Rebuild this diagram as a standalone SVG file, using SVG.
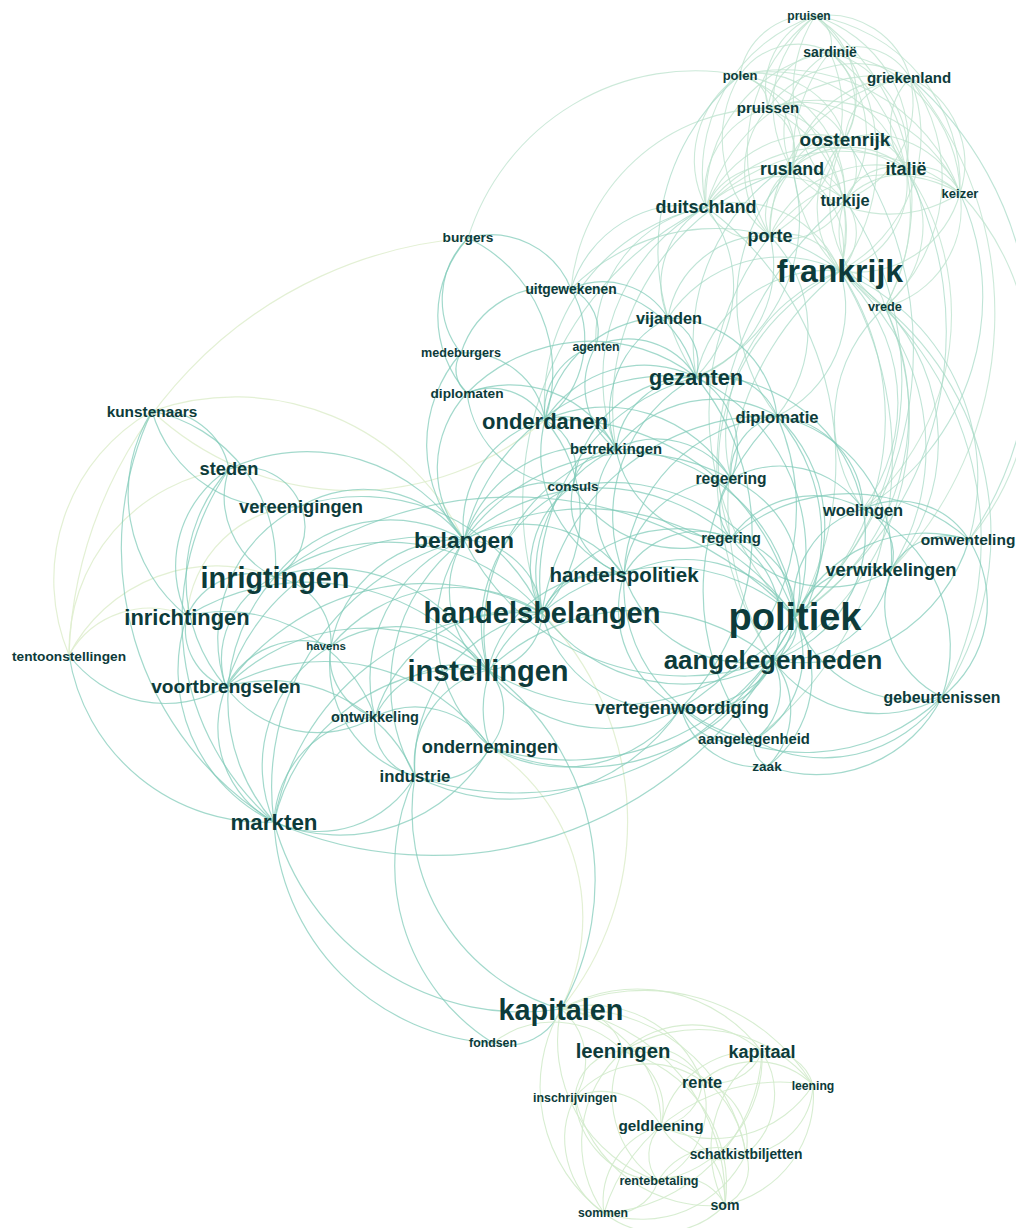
<svg xmlns="http://www.w3.org/2000/svg" width="1016" height="1228" viewBox="0 0 1016 1228">
<style>
.bg{fill:#ffffff}
#connectors path{fill:none;stroke-linecap:round}
.e path{stroke:#7fcbb9;stroke-width:1.2;stroke-opacity:0.72}
.t path{stroke:#bfe3cf;stroke-width:1.1;stroke-opacity:0.8}
.m path{stroke:#a6d9c6;stroke-width:1.1;stroke-opacity:0.72}
.b path{stroke:#d3ebcc;stroke-width:1.1;stroke-opacity:0.9}
.y path{stroke:#e0eecf;stroke-width:1.2;stroke-opacity:0.9}
text{font-family:"Liberation Sans",Arial,Helvetica,sans-serif;font-weight:bold;fill:#0d3b3a;text-anchor:middle}
</style>
<rect class="bg" width="1016" height="1228"/>
<g id="connectors">
<g class="t">
<path d="M815 16A30 30 0 0 1 830 52"/>
<path d="M815 16A85 85 0 0 1 910 78"/>
<path d="M740 75A71 71 0 0 1 815 16"/>
<path d="M815 16A95 95 0 0 1 845 139"/>
<path d="M792 169A116 116 0 0 1 815 16"/>
<path d="M815 16A134 134 0 0 1 906 169"/>
<path d="M815 16A192 192 0 0 1 840 271"/>
<path d="M845 200A140 140 0 0 1 815 16"/>
<path d="M830 52A66 66 0 0 1 845 139"/>
<path d="M830 52A105 105 0 0 1 906 169"/>
<path d="M840 271A164 164 0 0 1 830 52"/>
<path d="M792 169A92 92 0 0 1 830 52"/>
<path d="M830 52A63 63 0 0 1 910 78"/>
<path d="M830 52A144 144 0 0 1 960 193"/>
<path d="M740 75A80 80 0 0 1 792 169"/>
<path d="M740 75A92 92 0 0 1 845 139"/>
<path d="M740 75A32 32 0 0 1 768 108"/>
<path d="M740 75A165 165 0 0 1 840 271"/>
<path d="M706 207A102 102 0 0 1 740 75"/>
<path d="M740 75A122 122 0 0 1 845 200"/>
<path d="M910 78A104 104 0 0 1 845 200"/>
<path d="M792 169A112 112 0 0 1 910 78"/>
<path d="M910 78A154 154 0 0 1 840 271"/>
<path d="M910 78A94 94 0 0 1 960 193"/>
<path d="M770 236A158 158 0 0 1 910 78"/>
<path d="M845 139A67 67 0 0 1 910 78"/>
<path d="M768 108A62 62 0 0 1 845 139"/>
<path d="M768 108A50 50 0 0 1 792 169"/>
<path d="M768 108A134 134 0 0 1 840 271"/>
<path d="M706 207A88 88 0 0 1 768 108"/>
<path d="M768 108A113 113 0 0 1 906 169"/>
<path d="M845 139A51 51 0 0 1 906 169"/>
<path d="M840 271A99 99 0 0 1 845 139"/>
<path d="M792 169A46 46 0 0 1 845 139"/>
<path d="M845 139A46 46 0 0 1 845 200"/>
<path d="M845 139A95 95 0 0 1 960 193"/>
<path d="M706 207A116 116 0 0 1 845 139"/>
<path d="M792 169A46 46 0 0 1 845 200"/>
<path d="M770 236A53 53 0 0 1 792 169"/>
<path d="M792 169A85 85 0 0 1 840 271"/>
<path d="M792 169A86 86 0 0 1 906 169"/>
<path d="M960 193A128 128 0 0 1 792 169"/>
<path d="M906 169A91 91 0 0 1 840 271"/>
<path d="M845 200A51 51 0 0 1 906 169"/>
<path d="M906 169A44 44 0 0 1 960 193"/>
<path d="M845 200A62 62 0 0 1 770 236"/>
<path d="M845 200A53 53 0 0 1 840 271"/>
<path d="M706 207A111 111 0 0 1 840 271"/>
<path d="M770 236A53 53 0 0 1 706 207"/>
<path d="M770 236A59 59 0 0 1 840 271"/>
<path d="M840 271A44 44 0 0 1 885 307"/>
<path d="M960 193A107 107 0 0 1 840 271"/>
<path d="M960 193A102 102 0 0 1 885 307"/>
<path d="M815 16A172 172 0 0 1 960 193"/>
<path d="M768 108A78 78 0 0 1 815 16"/>
<path d="M770 236A169 169 0 0 1 815 16"/>
<path d="M740 75A70 70 0 0 1 830 52"/>
<path d="M830 52A63 63 0 0 0 768 108"/>
<path d="M845 200A111 111 0 0 0 830 52"/>
<path d="M830 52A149 149 0 0 0 706 207"/>
<path d="M830 52A145 145 0 0 1 770 236"/>
<path d="M906 169A68 68 0 0 1 910 78"/>
<path d="M910 78A109 109 0 0 0 768 108"/>
<path d="M706 207A181 181 0 0 1 910 78"/>
<path d="M910 78A173 173 0 0 1 885 307"/>
<path d="M740 75A143 143 0 0 1 906 169"/>
<path d="M770 236A123 123 0 0 1 740 75"/>
<path d="M740 75A187 187 0 0 1 960 193"/>
<path d="M845 200A90 90 0 0 0 768 108"/>
<path d="M768 108A96 96 0 0 0 770 236"/>
<path d="M768 108A157 157 0 0 1 960 193"/>
<path d="M845 139A92 92 0 0 0 770 236"/>
<path d="M885 307A130 130 0 0 1 845 139"/>
<path d="M792 169A71 71 0 0 0 706 207"/>
<path d="M770 236A114 114 0 0 1 906 169"/>
<path d="M906 169A153 153 0 0 0 706 207"/>
<path d="M906 169A105 105 0 0 1 885 307"/>
<path d="M845 200A86 86 0 0 1 960 193"/>
<path d="M706 207A104 104 0 0 1 845 200"/>
<path d="M845 200A86 86 0 0 0 885 307"/>
<path d="M960 193A191 191 0 0 0 706 207"/>
<path d="M770 236A146 146 0 0 1 960 193"/>
<path d="M830 52A196 196 0 0 1 885 307"/>
<path d="M815 16A224 224 0 0 1 885 307"/>
<path d="M815 16A165 165 0 0 0 706 207"/>
<path d="M740 75A238 238 0 0 0 468 238"/>
<path d="M768 108A200 200 0 0 0 571 289"/>
<path d="M910 78A369 369 0 0 1 891 570"/>
<path d="M906 169A257 257 0 0 1 863 509"/>
<path d="M960 193A260 260 0 0 1 969 540"/>
</g>
<g class="m">
<path d="M840 271A263 263 0 0 1 795 617"/>
<path d="M840 271A120 120 0 0 1 777 416"/>
<path d="M696 377A134 134 0 0 1 840 271"/>
<path d="M840 271A179 179 0 0 1 863 509"/>
<path d="M840 271A227 227 0 0 1 891 570"/>
<path d="M706 207A128 128 0 0 1 696 377"/>
<path d="M706 207A315 315 0 0 1 795 617"/>
<path d="M545 420A200 200 0 0 1 706 207"/>
<path d="M770 236A119 119 0 0 1 696 377"/>
<path d="M792 169A172 172 0 0 1 696 377"/>
<path d="M845 139A360 360 0 0 1 795 617"/>
<path d="M885 307A242 242 0 0 1 795 617"/>
<path d="M885 307A278 278 0 0 1 773 660"/>
<path d="M773 660A296 296 0 0 1 840 271"/>
<path d="M668 318A134 134 0 0 1 840 271"/>
<path d="M706 207A194 194 0 0 0 616 449"/>
<path d="M840 271A224 224 0 0 1 969 540"/>
<path d="M840 271A329 329 0 0 1 942 697"/>
<path d="M706 207A329 329 0 0 0 542 613"/>
<path d="M770 236A98 98 0 0 0 668 318"/>
<path d="M845 200A315 315 0 0 1 795 617"/>
<path d="M840 271A203 203 0 0 0 571 289"/>
<path d="M706 207A119 119 0 0 0 571 289"/>
<path d="M840 271A176 176 0 0 0 731 479"/>
<path d="M731 538A216 216 0 0 1 840 271"/>
<path d="M770 236A135 135 0 0 1 777 416"/>
<path d="M845 139A211 211 0 0 0 696 377"/>
<path d="M777 416A185 185 0 0 1 792 169"/>
<path d="M906 169A346 346 0 0 1 795 617"/>
<path d="M910 78A349 349 0 0 1 969 540"/>
<path d="M795 617A286 286 0 0 1 770 236"/>
<path d="M706 207A88 88 0 0 0 668 318"/>
<path d="M840 271A358 358 0 0 1 754 740"/>
<path d="M773 660A349 349 0 0 1 845 200"/>
<path d="M960 193A248 248 0 0 1 863 509"/>
<path d="M885 307A197 197 0 0 1 891 570"/>
<path d="M863 509A152 152 0 0 1 885 307"/>
<path d="M885 307A296 296 0 0 1 942 697"/>
<path d="M596 346A133 133 0 0 1 706 207"/>
<path d="M740 75A229 229 0 0 0 696 377"/>
<path d="M792 169A248 248 0 0 0 616 449"/>
</g>
<g class="y">
<path d="M69 655A433 433 0 0 1 468 238"/>
<path d="M152 411A295 295 0 0 0 545 420"/>
<path d="M69 655A194 194 0 0 1 152 411"/>
<path d="M229 469A184 184 0 0 0 69 655"/>
<path d="M187 616A119 119 0 0 1 301 506"/>
<path d="M275 577A165 165 0 0 0 69 655"/>
<path d="M187 616A93 93 0 0 0 69 655"/>
<path d="M561 1009A297 297 0 0 0 542 613"/>
<path d="M490 747A203 203 0 0 1 561 1009"/>
<path d="M464 540A254 254 0 0 0 152 411"/>
</g>
<g class="e">
<path d="M795 617A190 190 0 0 0 542 613"/>
<path d="M795 617A36 36 0 0 1 773 660"/>
<path d="M624 575A132 132 0 0 1 795 617"/>
<path d="M731 538A77 77 0 0 1 795 617"/>
<path d="M795 617A114 114 0 0 0 731 479"/>
<path d="M863 509A96 96 0 0 0 795 617"/>
<path d="M795 617A143 143 0 0 1 969 540"/>
<path d="M891 570A80 80 0 0 0 795 617"/>
<path d="M795 617A125 125 0 0 0 942 697"/>
<path d="M777 416A152 152 0 0 1 795 617"/>
<path d="M696 377A195 195 0 0 1 795 617"/>
<path d="M795 617A110 110 0 0 1 681 708"/>
<path d="M754 740A98 98 0 0 0 795 617"/>
<path d="M795 617A113 113 0 0 1 768 766"/>
<path d="M464 540A255 255 0 0 1 795 617"/>
<path d="M795 617A234 234 0 0 1 488 670"/>
<path d="M616 449A184 184 0 0 1 795 617"/>
<path d="M545 420A239 239 0 0 1 795 617"/>
<path d="M795 617A194 194 0 0 0 573 486"/>
<path d="M795 617A309 309 0 0 1 415 776"/>
<path d="M490 747A249 249 0 0 0 795 617"/>
<path d="M275 577A392 392 0 0 1 795 617"/>
<path d="M542 613A59 59 0 0 1 488 670"/>
<path d="M542 613A68 68 0 0 1 624 575"/>
<path d="M464 540A80 80 0 0 1 542 613"/>
<path d="M542 613A177 177 0 0 0 773 660"/>
<path d="M681 708A126 126 0 0 1 542 613"/>
<path d="M542 613A108 108 0 0 0 490 747"/>
<path d="M415 776A155 155 0 0 1 542 613"/>
<path d="M542 613A255 255 0 0 0 274 822"/>
<path d="M226 687A244 244 0 0 1 542 613"/>
<path d="M545 420A145 145 0 0 1 542 613"/>
<path d="M542 613A135 135 0 0 1 616 449"/>
<path d="M573 486A98 98 0 0 0 542 613"/>
<path d="M542 613A152 152 0 0 1 731 538"/>
<path d="M696 377A212 212 0 0 0 542 613"/>
<path d="M542 613A202 202 0 0 0 275 577"/>
<path d="M375 717A148 148 0 0 1 542 613"/>
<path d="M542 613A161 161 0 0 0 331 646"/>
<path d="M777 416A230 230 0 0 0 542 613"/>
<path d="M488 670A197 197 0 0 0 226 687"/>
<path d="M274 822A197 197 0 0 1 488 670"/>
<path d="M488 670A97 97 0 0 0 415 776"/>
<path d="M490 747A58 58 0 0 0 488 670"/>
<path d="M488 670A92 92 0 0 0 375 717"/>
<path d="M331 646A119 119 0 0 1 488 670"/>
<path d="M488 670A174 174 0 0 0 275 577"/>
<path d="M187 616A230 230 0 0 1 488 670"/>
<path d="M488 670A99 99 0 0 1 464 540"/>
<path d="M773 660A214 214 0 0 0 488 670"/>
<path d="M488 670A148 148 0 0 0 681 708"/>
<path d="M773 660A78 78 0 0 1 681 708"/>
<path d="M754 740A62 62 0 0 0 773 660"/>
<path d="M773 660A80 80 0 0 1 768 766"/>
<path d="M942 697A130 130 0 0 1 773 660"/>
<path d="M773 660A111 111 0 0 0 891 570"/>
<path d="M863 509A132 132 0 0 1 773 660"/>
<path d="M773 660A97 97 0 0 0 731 538"/>
<path d="M624 575A129 129 0 0 0 773 660"/>
<path d="M773 660A183 183 0 0 0 777 416"/>
<path d="M969 540A173 173 0 0 1 773 660"/>
<path d="M773 660A248 248 0 0 1 464 540"/>
<path d="M624 575A123 123 0 0 0 464 540"/>
<path d="M731 538A85 85 0 0 0 624 575"/>
<path d="M624 575A108 108 0 0 1 731 479"/>
<path d="M616 449A95 95 0 0 0 624 575"/>
<path d="M624 575A109 109 0 0 0 681 708"/>
<path d="M696 377A158 158 0 0 0 624 575"/>
<path d="M624 575A77 77 0 0 1 573 486"/>
<path d="M464 540A109 109 0 0 1 545 420"/>
<path d="M616 449A133 133 0 0 0 464 540"/>
<path d="M464 540A92 92 0 0 1 573 486"/>
<path d="M275 577A145 145 0 0 1 464 540"/>
<path d="M464 540A210 210 0 0 0 226 687"/>
<path d="M274 822A255 255 0 0 1 464 540"/>
<path d="M464 540A181 181 0 0 0 415 776"/>
<path d="M467 393A110 110 0 0 0 464 540"/>
<path d="M464 540A213 213 0 0 1 696 377"/>
<path d="M301 506A125 125 0 0 1 464 540"/>
<path d="M696 377A68 68 0 0 1 777 416"/>
<path d="M616 449A81 81 0 0 1 696 377"/>
<path d="M696 377A118 118 0 0 0 545 420"/>
<path d="M668 318A49 49 0 0 1 696 377"/>
<path d="M596 346A79 79 0 0 1 696 377"/>
<path d="M696 377A123 123 0 0 0 573 486"/>
<path d="M731 479A81 81 0 0 0 696 377"/>
<path d="M467 393A173 173 0 0 1 696 377"/>
<path d="M696 377A248 248 0 0 1 681 708"/>
<path d="M545 420A58 58 0 0 1 616 449"/>
<path d="M461 353A80 80 0 0 1 545 420"/>
<path d="M545 420A149 149 0 0 0 468 238"/>
<path d="M571 289A101 101 0 0 1 545 420"/>
<path d="M545 420A54 54 0 0 1 573 486"/>
<path d="M545 420A62 62 0 0 0 467 393"/>
<path d="M668 318A120 120 0 0 0 545 420"/>
<path d="M545 420A68 68 0 0 1 596 346"/>
<path d="M777 416A123 123 0 0 0 616 449"/>
<path d="M731 479A59 59 0 0 1 777 416"/>
<path d="M777 416A230 230 0 0 1 681 708"/>
<path d="M754 740A244 244 0 0 1 777 416"/>
<path d="M226 687A107 107 0 0 0 274 822"/>
<path d="M415 776A157 157 0 0 0 226 687"/>
<path d="M226 687A114 114 0 0 0 375 717"/>
<path d="M331 646A85 85 0 0 0 226 687"/>
<path d="M226 687A90 90 0 0 1 275 577"/>
<path d="M187 616A61 61 0 0 0 226 687"/>
<path d="M226 687A164 164 0 0 1 229 469"/>
<path d="M69 655A120 120 0 0 0 226 687"/>
<path d="M490 747A203 203 0 0 0 226 687"/>
<path d="M274 822A111 111 0 0 0 415 776"/>
<path d="M375 717A110 110 0 0 0 274 822"/>
<path d="M274 822A139 139 0 0 1 331 646"/>
<path d="M275 577A184 184 0 0 0 274 822"/>
<path d="M229 469A267 267 0 0 0 274 822"/>
<path d="M274 822A172 172 0 0 0 490 747"/>
<path d="M274 822A257 257 0 0 0 561 1009"/>
<path d="M415 776A60 60 0 0 0 490 747"/>
<path d="M375 717A53 53 0 0 0 415 776"/>
<path d="M561 1009A206 206 0 0 1 415 776"/>
<path d="M275 577A72 72 0 0 0 187 616"/>
<path d="M229 469A88 88 0 0 0 275 577"/>
<path d="M275 577A57 57 0 0 0 301 506"/>
<path d="M152 411A155 155 0 0 1 275 577"/>
<path d="M187 616A156 156 0 0 1 152 411"/>
<path d="M229 469A115 115 0 0 0 187 616"/>
<path d="M274 822A198 198 0 0 1 69 655"/>
<path d="M152 411A72 72 0 0 1 229 469"/>
<path d="M152 411A133 133 0 0 0 301 506"/>
<path d="M274 822A322 322 0 0 1 152 411"/>
<path d="M468 238A86 86 0 0 1 571 289"/>
<path d="M571 289A76 76 0 0 1 668 318"/>
<path d="M596 346A47 47 0 0 0 571 289"/>
<path d="M461 353A95 95 0 0 1 571 289"/>
<path d="M468 238A86 86 0 0 0 461 353"/>
<path d="M467 393A116 116 0 0 1 468 238"/>
<path d="M863 509A83 83 0 0 1 969 540"/>
<path d="M891 570A50 50 0 0 0 863 509"/>
<path d="M969 540A63 63 0 0 0 891 570"/>
<path d="M891 570A103 103 0 0 0 942 697"/>
<path d="M969 540A119 119 0 0 1 942 697"/>
<path d="M731 538A44 44 0 0 1 731 479"/>
<path d="M754 740A23 23 0 0 0 768 766"/>
<path d="M681 708A60 60 0 0 0 754 740"/>
<path d="M768 766A79 79 0 0 1 681 708"/>
<path d="M488 670A260 260 0 0 1 561 1009"/>
<path d="M561 1009A57 57 0 0 1 493 1043"/>
<path d="M493 1043A233 233 0 0 1 274 822"/>
<path d="M415 776A209 209 0 0 0 493 1043"/>
<path d="M464 540A128 128 0 0 0 331 646"/>
<path d="M375 717A149 149 0 0 1 464 540"/>
<path d="M464 540A157 157 0 0 0 490 747"/>
<path d="M731 538A200 200 0 0 0 464 540"/>
<path d="M464 540A206 206 0 0 1 731 479"/>
<path d="M488 670A125 125 0 0 1 624 575"/>
<path d="M616 449A191 191 0 0 0 488 670"/>
<path d="M488 670A152 152 0 0 1 573 486"/>
<path d="M754 740A158 158 0 0 1 624 575"/>
<path d="M624 575A166 166 0 0 1 777 416"/>
<path d="M545 420A131 131 0 0 0 624 575"/>
<path d="M942 697A196 196 0 0 1 681 708"/>
<path d="M681 708A146 146 0 0 1 490 747"/>
<path d="M415 776A206 206 0 0 0 681 708"/>
<path d="M754 740A145 145 0 0 0 942 697"/>
<path d="M942 697A140 140 0 0 1 768 766"/>
<path d="M731 538A101 101 0 0 1 863 509"/>
<path d="M863 509A101 101 0 0 0 731 479"/>
<path d="M891 570A122 122 0 0 1 731 538"/>
<path d="M777 416A95 95 0 0 1 863 509"/>
<path d="M891 570A144 144 0 0 0 777 416"/>
<path d="M696 377A160 160 0 0 1 863 509"/>
<path d="M616 449A109 109 0 0 0 731 538"/>
<path d="M731 479A89 89 0 0 0 616 449"/>
<path d="M573 486A125 125 0 0 0 731 538"/>
<path d="M616 449A43 43 0 0 0 573 486"/>
<path d="M731 479A146 146 0 0 0 545 420"/>
<path d="M668 318A106 106 0 0 0 616 449"/>
<path d="M777 416A110 110 0 0 0 668 318"/>
<path d="M596 346A79 79 0 0 0 616 449"/>
<path d="M461 353A30 30 0 0 0 467 393"/>
<path d="M464 540A140 140 0 0 1 461 353"/>
<path d="M467 393A106 106 0 0 0 573 486"/>
<path d="M616 449A119 119 0 0 0 467 393"/>
<path d="M571 289A115 115 0 0 1 696 377"/>
<path d="M331 646A63 63 0 0 0 375 717"/>
<path d="M490 747A89 89 0 0 0 375 717"/>
<path d="M415 776A116 116 0 0 1 331 646"/>
<path d="M331 646A67 67 0 0 0 275 577"/>
<path d="M187 616A168 168 0 0 0 274 822"/>
<path d="M375 717A160 160 0 0 0 187 616"/>
<path d="M229 469A61 61 0 0 1 301 506"/>
<path d="M464 540A184 184 0 0 0 229 469"/>
<path d="M226 687A147 147 0 0 1 301 506"/>
<path d="M301 506A198 198 0 0 1 542 613"/>
<path d="M942 697A153 153 0 0 0 863 509"/>
<path d="M969 540A179 179 0 0 0 731 538"/>
<path d="M773 660A222 222 0 0 1 490 747"/>
<path d="M274 822A394 394 0 0 0 773 660"/>
</g>
<g class="b">
<path d="M561 1009A56 56 0 0 1 623 1051"/>
<path d="M561 1009A155 155 0 0 1 762 1052"/>
<path d="M702 1081A119 119 0 0 0 561 1009"/>
<path d="M561 1009A67 67 0 0 1 575 1097"/>
<path d="M661 1126A116 116 0 0 0 561 1009"/>
<path d="M561 1009A176 176 0 0 1 746 1154"/>
<path d="M658 1181A148 148 0 0 1 561 1009"/>
<path d="M561 1009A191 191 0 0 1 725 1205"/>
<path d="M604 1213A156 156 0 0 1 561 1009"/>
<path d="M561 1009A197 197 0 0 1 813 1085"/>
<path d="M623 1051A104 104 0 0 1 762 1052"/>
<path d="M702 1081A63 63 0 0 0 623 1051"/>
<path d="M623 1051A63 63 0 0 1 661 1126"/>
<path d="M575 1097A50 50 0 0 1 623 1051"/>
<path d="M623 1051A120 120 0 0 1 746 1154"/>
<path d="M658 1181A101 101 0 0 1 623 1051"/>
<path d="M623 1051A138 138 0 0 1 725 1205"/>
<path d="M604 1213A122 122 0 0 1 623 1051"/>
<path d="M813 1085A145 145 0 0 0 623 1051"/>
<path d="M762 1052A50 50 0 0 1 702 1081"/>
<path d="M762 1052A46 46 0 0 1 813 1085"/>
<path d="M661 1126A94 94 0 0 1 762 1052"/>
<path d="M762 1052A77 77 0 0 1 746 1154"/>
<path d="M725 1205A118 118 0 0 1 762 1052"/>
<path d="M702 1081A46 46 0 0 1 661 1126"/>
<path d="M746 1154A64 64 0 0 0 702 1081"/>
<path d="M702 1081A82 82 0 0 1 658 1181"/>
<path d="M813 1085A83 83 0 0 0 702 1081"/>
<path d="M661 1126A67 67 0 0 0 746 1154"/>
<path d="M658 1181A41 41 0 0 1 661 1126"/>
<path d="M661 1126A78 78 0 0 0 604 1213"/>
<path d="M725 1205A77 77 0 0 0 661 1126"/>
<path d="M575 1097A90 90 0 0 0 604 1213"/>
<path d="M661 1126A68 68 0 0 0 575 1097"/>
<path d="M746 1154A41 41 0 0 1 725 1205"/>
<path d="M725 1205A53 53 0 0 0 658 1181"/>
<path d="M604 1213A91 91 0 0 0 725 1205"/>
<path d="M658 1181A47 47 0 0 1 604 1213"/>
<path d="M813 1085A112 112 0 0 1 725 1205"/>
<path d="M762 1052A170 170 0 0 1 604 1213"/>
<path d="M604 1213A184 184 0 0 1 813 1085"/>
<path d="M813 1085A118 118 0 0 1 661 1126"/>
<path d="M813 1085A72 72 0 0 1 746 1154"/>
<path d="M575 1097A89 89 0 0 0 658 1181"/>
<path d="M702 1081A96 96 0 0 0 575 1097"/>
<path d="M493 1043A98 98 0 0 1 623 1051"/>
<path d="M762 1052A125 125 0 0 1 658 1181"/>
<path d="M658 1181A69 69 0 0 1 746 1154"/>
<path d="M746 1154A116 116 0 0 1 604 1213"/>
<path d="M575 1097A139 139 0 0 0 725 1205"/>
</g>
</g>
<g id="nodes">
<g id="n-pruisen"><text x="809" y="16" dy="0.35em" font-size="12">pruisen</text></g>
<g id="n-sardinie"><text x="830" y="52" dy="0.35em" font-size="14">sardinië</text></g>
<g id="n-polen"><text x="740" y="75" dy="0.35em" font-size="13">polen</text></g>
<g id="n-griekenland"><text x="909" y="78" dy="0.35em" font-size="15">griekenland</text></g>
<g id="n-pruissen"><text x="768" y="108" dy="0.35em" font-size="15">pruissen</text></g>
<g id="n-oostenrijk"><text x="845" y="139" dy="0.35em" font-size="19">oostenrijk</text></g>
<g id="n-rusland"><text x="792" y="169" dy="0.35em" font-size="17.7">rusland</text></g>
<g id="n-italie"><text x="906" y="169" dy="0.35em" font-size="18">italië</text></g>
<g id="n-turkije"><text x="845" y="200" dy="0.35em" font-size="16.4">turkije</text></g>
<g id="n-keizer"><text x="960" y="193" dy="0.35em" font-size="13">keizer</text></g>
<g id="n-duitschland"><text x="706" y="207" dy="0.35em" font-size="18">duitschland</text></g>
<g id="n-porte"><text x="770" y="236" dy="0.35em" font-size="18">porte</text></g>
<g id="n-frankrijk"><text x="840" y="271" dy="0.35em" font-size="32">frankrijk</text></g>
<g id="n-vrede"><text x="885" y="307" dy="0.35em" font-size="12.7">vrede</text></g>
<g id="n-burgers"><text x="468" y="237" dy="0.35em" font-size="13.7">burgers</text></g>
<g id="n-uitgewekenen"><text x="571" y="289" dy="0.35em" font-size="13.8">uitgewekenen</text></g>
<g id="n-vijanden"><text x="669" y="318" dy="0.35em" font-size="16.3">vijanden</text></g>
<g id="n-medeburgers"><text x="461" y="353" dy="0.35em" font-size="12.6">medeburgers</text></g>
<g id="n-agenten"><text x="596" y="347" dy="0.35em" font-size="12.3">agenten</text></g>
<g id="n-gezanten"><text x="696" y="377" dy="0.35em" font-size="21.7">gezanten</text></g>
<g id="n-diplomaten"><text x="467" y="393" dy="0.35em" font-size="13.7">diplomaten</text></g>
<g id="n-onderdanen"><text x="545" y="421" dy="0.35em" font-size="22">onderdanen</text></g>
<g id="n-diplomatie"><text x="777" y="417" dy="0.35em" font-size="16.6">diplomatie</text></g>
<g id="n-kunstenaars"><text x="152" y="412" dy="0.35em" font-size="15.4">kunstenaars</text></g>
<g id="n-betrekkingen"><text x="616" y="449" dy="0.35em" font-size="14.8">betrekkingen</text></g>
<g id="n-steden"><text x="229" y="469" dy="0.35em" font-size="18.3">steden</text></g>
<g id="n-consuls"><text x="573" y="486" dy="0.35em" font-size="13.5">consuls</text></g>
<g id="n-regeering"><text x="731" y="479" dy="0.35em" font-size="15.6">regeering</text></g>
<g id="n-vereenigingen"><text x="301" y="507" dy="0.35em" font-size="18.3">vereenigingen</text></g>
<g id="n-woelingen"><text x="863" y="510" dy="0.35em" font-size="16.4">woelingen</text></g>
<g id="n-belangen"><text x="464" y="540" dy="0.35em" font-size="22.8">belangen</text></g>
<g id="n-regering"><text x="731" y="538" dy="0.35em" font-size="14.9">regering</text></g>
<g id="n-omwenteling"><text x="968" y="540" dy="0.35em" font-size="15.5">omwenteling</text></g>
<g id="n-handelspolitiek"><text x="624" y="575" dy="0.35em" font-size="20.5">handelspolitiek</text></g>
<g id="n-verwikkelingen"><text x="891" y="570" dy="0.35em" font-size="18.3">verwikkelingen</text></g>
<g id="n-inrigtingen"><text x="275" y="578" dy="0.35em" font-size="28.8">inrigtingen</text></g>
<g id="n-politiek"><text x="795" y="617" dy="0.35em" font-size="38">politiek</text></g>
<g id="n-handelsbelangen"><text x="542" y="613" dy="0.35em" font-size="29">handelsbelangen</text></g>
<g id="n-inrichtingen"><text x="187" y="617" dy="0.35em" font-size="21.9">inrichtingen</text></g>
<g id="n-havens"><text x="326" y="646" dy="0.35em" font-size="11.5">havens</text></g>
<g id="n-tentoonstellingen"><text x="69" y="656" dy="0.35em" font-size="13.7">tentoonstellingen</text></g>
<g id="n-aangelegenheden"><text x="773" y="660" dy="0.35em" font-size="25.9">aangelegenheden</text></g>
<g id="n-instellingen"><text x="488" y="671" dy="0.35em" font-size="29">instellingen</text></g>
<g id="n-voortbrengselen"><text x="226" y="686" dy="0.35em" font-size="19.1">voortbrengselen</text></g>
<g id="n-gebeurtenissen"><text x="942" y="697" dy="0.35em" font-size="15.8">gebeurtenissen</text></g>
<g id="n-vertegenwoordiging"><text x="682" y="708" dy="0.35em" font-size="18.2">vertegenwoordiging</text></g>
<g id="n-ontwikkeling"><text x="375" y="717" dy="0.35em" font-size="14.5">ontwikkeling</text></g>
<g id="n-aangelegenheid"><text x="754" y="739" dy="0.35em" font-size="14.8">aangelegenheid</text></g>
<g id="n-ondernemingen"><text x="490" y="747" dy="0.35em" font-size="18.2">ondernemingen</text></g>
<g id="n-zaak"><text x="767" y="766" dy="0.35em" font-size="13.5">zaak</text></g>
<g id="n-industrie"><text x="415" y="776" dy="0.35em" font-size="16.8">industrie</text></g>
<g id="n-markten"><text x="274" y="822" dy="0.35em" font-size="22.4">markten</text></g>
<g id="n-kapitalen"><text x="561" y="1010" dy="0.35em" font-size="28.8">kapitalen</text></g>
<g id="n-fondsen"><text x="493" y="1043" dy="0.35em" font-size="12.3">fondsen</text></g>
<g id="n-leeningen"><text x="623" y="1051" dy="0.35em" font-size="20.3">leeningen</text></g>
<g id="n-kapitaal"><text x="762" y="1052" dy="0.35em" font-size="18">kapitaal</text></g>
<g id="n-rente"><text x="702" y="1082" dy="0.35em" font-size="16.4">rente</text></g>
<g id="n-leening"><text x="813" y="1086" dy="0.35em" font-size="12.2">leening</text></g>
<g id="n-inschrijvingen"><text x="575" y="1098" dy="0.35em" font-size="12.4">inschrijvingen</text></g>
<g id="n-geldleening"><text x="661" y="1126" dy="0.35em" font-size="15.3">geldleening</text></g>
<g id="n-schatkistbiljetten"><text x="746" y="1154" dy="0.35em" font-size="13.8">schatkistbiljetten</text></g>
<g id="n-rentebetaling"><text x="659" y="1181" dy="0.35em" font-size="12.6">rentebetaling</text></g>
<g id="n-som"><text x="725" y="1205" dy="0.35em" font-size="14.1">som</text></g>
<g id="n-sommen"><text x="603" y="1213" dy="0.35em" font-size="12.2">sommen</text></g>
</g>
</svg>
